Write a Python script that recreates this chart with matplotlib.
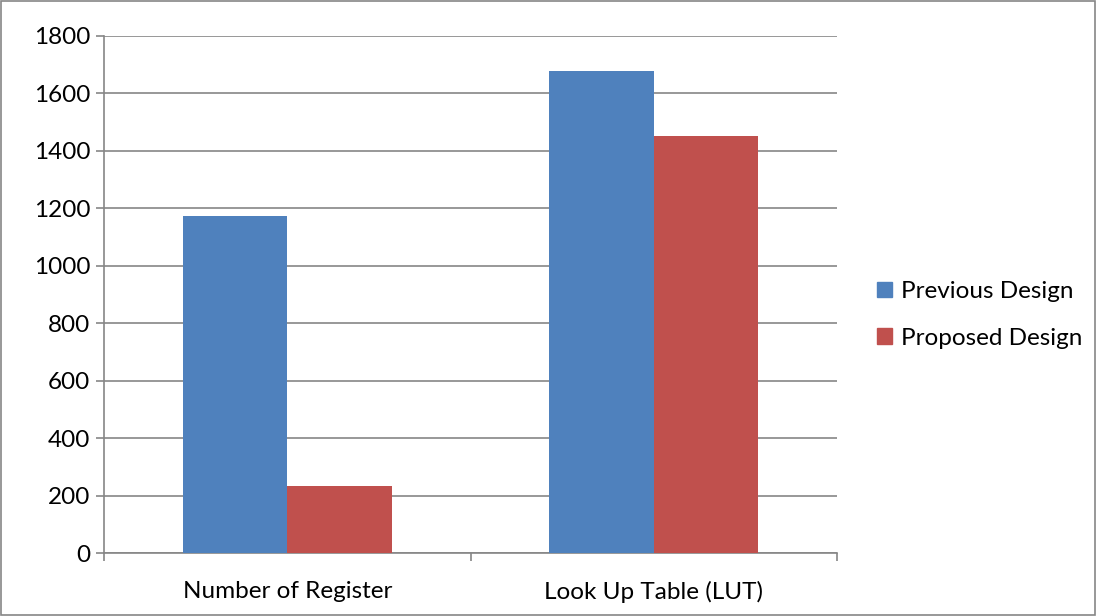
import matplotlib.pyplot as plt
import numpy as np
from matplotlib.patches import Patch, Rectangle

categories = ["Number of Register", "Look Up Table (LUT)"]
previous = [1172, 1678]
proposed = [233, 1452]
series_labels = ["Previous Design", "Proposed Design"]

BLUE = "#4f81bd"
RED = "#c0504d"
GRID = "#868686"
FS = 17.5

plt.rcParams["font.family"] = ["Lato", "DejaVu Sans"]

fig = plt.figure(figsize=(10.97, 6.16), dpi=100)
ax = fig.add_axes([104 / 1097, 1 - 553 / 616, 733 / 1097, 517 / 616])

x = np.arange(len(categories))
w = 0.285
ax.bar(x - w / 2, previous, w, color=BLUE, zorder=3)
ax.bar(x + w / 2, proposed, w, color=RED, zorder=3)

ax.set_xlim(-0.5, len(categories) - 0.5)
ax.set_ylim(0, 1800)
ax.set_yticks(range(0, 1801, 200))
ax.yaxis.grid(True, color=GRID, lw=1.2, zorder=0)

ax.set_xticks(x)
ax.set_xticklabels(categories, fontsize=FS)
ax.tick_params(axis="x", length=0, pad=20)
ax.set_xticks([-0.5, 0.5, 1.5], minor=True)
ax.tick_params(axis="x", which="minor", length=6, color=GRID, width=1.2)
ax.tick_params(axis="y", labelsize=FS, length=6, color=GRID, width=1.2, pad=4)

for side in ["top", "right"]:
    ax.spines[side].set_visible(False)
for side in ["left", "bottom"]:
    ax.spines[side].set_color(GRID)
    ax.spines[side].set_linewidth(1.2)

handles = [Patch(color=BLUE), Patch(color=RED)]
fig.legend(handles, series_labels, loc="center left",
           bbox_to_anchor=(877 / 1097, 1 - 315 / 616), frameon=False,
           fontsize=FS, handlelength=0.6, handleheight=0.6,
           handletextpad=0.4, labelspacing=1.05, borderpad=0, borderaxespad=0)

fig.patches.append(Rectangle((0.001, 0.001), 0.997, 0.997, transform=fig.transFigure,
                             fill=False, edgecolor=GRID, lw=1.2))

fig.savefig("out.png", dpi=100)
